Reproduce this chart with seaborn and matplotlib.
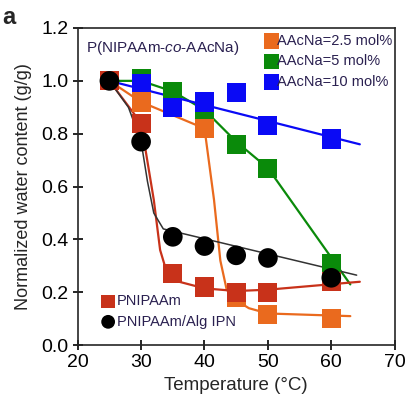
import matplotlib
matplotlib.use("Agg")
import matplotlib.pyplot as plt
import seaborn as sns

# measured points
temps = [25, 30, 35, 40, 45, 50, 60]
pnipaam = [1.0, 0.84, 0.27, 0.22, 0.20, 0.20, 0.24]
ipn = [1.0, 0.77, 0.41, 0.375, 0.34, 0.33, 0.255]
temps_25 = [25, 30, 40, 45, 50, 60]
aac_25 = [1.0, 0.92, 0.82, 0.18, 0.115, 0.10]
aac_5 = [1.0, 1.01, 0.96, 0.89, 0.76, 0.67, 0.31]
aac_10 = [1.0, 0.99, 0.90, 0.92, 0.955, 0.83, 0.78]

# guide curves (knots)
fit_red_x = [25, 30, 32, 33, 34, 36, 40, 45, 50, 64.5]
fit_red_y = [1.0, 0.84, 0.55, 0.36, 0.28, 0.24, 0.215, 0.205, 0.21, 0.24]
fit_black_x = [25, 28, 30, 31, 32, 33.5, 64]
fit_black_y = [1.0, 0.90, 0.77, 0.62, 0.50, 0.44, 0.265]
fit_orange_x = [25, 30, 40, 41.5, 42.5, 43.5, 45, 47, 50, 63]
fit_orange_y = [1.0, 0.92, 0.82, 0.55, 0.32, 0.21, 0.17, 0.14, 0.12, 0.11]
fit_green_x = [25, 30, 35, 40, 45, 50, 63]
fit_green_y = [1.0, 1.0, 0.96, 0.89, 0.77, 0.67, 0.23]
fit_blue_x = [25, 64.5]
fit_blue_y = [1.0, 0.76]

RED = "#c8321a"
ORANGE = "#ea6a1e"
GREEN = "#0a8a0a"
BLUE = "#0a0af5"
TXT = "#2a2050"

sns.set_style("ticks")
plt.rcParams["font.family"] = ["Liberation Sans", "DejaVu Sans"]
plt.rcParams["mathtext.fontset"] = "custom"
plt.rcParams["mathtext.rm"] = "Liberation Sans"
plt.rcParams["mathtext.it"] = "Liberation Sans:italic"

fig, ax = plt.subplots(figsize=(4.09, 4.0), dpi=100)
fig.subplots_adjust(left=0.19, right=0.965, top=0.93, bottom=0.137)

# fitted lines
for fx, fy, c, lw in [(fit_green_x, fit_green_y, GREEN, 1.6),
                      (fit_blue_x, fit_blue_y, BLUE, 1.6),
                      (fit_orange_x, fit_orange_y, ORANGE, 1.6),
                      (fit_red_x, fit_red_y, RED, 1.6),
                      (fit_black_x, fit_black_y, "#333333", 1.1)]:
    sns.lineplot(x=fx, y=fy, color=c, lw=lw, ax=ax, sort=False, zorder=2)

# markers
series = [
    (temps, aac_5, GREEN, "s", "AAcNa=5 mol%"),
    (temps, aac_10, BLUE, "s", "AAcNa=10 mol%"),
    (temps_25, aac_25, ORANGE, "s", "AAcNa=2.5 mol%"),
    (temps, pnipaam, RED, "s", "PNIPAAm"),
    (temps, ipn, "black", "o", "PNIPAAm/Alg IPN"),
]
handles = {}
for xs, ys, c, m, lab in series:
    sc = ax.scatter(xs, ys, color=c, marker=m, s=190 if m == "s" else 200,
                    edgecolors="none", zorder=3, label=lab)
    handles[lab] = sc

ax.set_xlim(20, 70)
ax.set_ylim(0, 1.2)
ax.set_xticks([20, 30, 40, 50, 60, 70])
ax.set_yticks([0.0, 0.2, 0.4, 0.6, 0.8, 1.0, 1.2])
ax.set_yticklabels(["0.0", "0.2", "0.4", "0.6", "0.8", "1.0", "1.2"])
ax.tick_params(direction="inout", length=7, width=1.2, labelsize=14, colors="black", pad=3)
for s in ax.spines.values():
    s.set_linewidth(1.2)
    s.set_visible(True)

ax.set_xlabel("Temperature (°C)", fontsize=13.5, labelpad=4)
ax.set_ylabel("Normalized water content (g/g)", fontsize=13, labelpad=7)

leg1 = ax.legend([handles[k] for k in ["AAcNa=2.5 mol%", "AAcNa=5 mol%", "AAcNa=10 mol%"]],
                 ["AAcNa=2.5 mol%", "AAcNa=5 mol%", "AAcNa=10 mol%"],
                 loc="upper right", frameon=False, fontsize=10.5, handlelength=0.6,
                 handletextpad=0.05, borderaxespad=0.0, labelspacing=0.45,
                 markerscale=0.8, labelcolor=TXT, bbox_to_anchor=(1.01, 1.0))
ax.add_artist(leg1)
ax.legend([handles["PNIPAAm"], handles["PNIPAAm/Alg IPN"]],
          ["PNIPAAm", "PNIPAAm/Alg IPN"],
          loc="lower left", frameon=False, fontsize=10.5, handlelength=0.6,
          handletextpad=0.3, borderaxespad=0.3, labelspacing=0.45,
          markerscale=0.7, labelcolor=TXT, bbox_to_anchor=(0.05, 0.02))

ax.text(0.025, 0.965, r"P(NIPAAm-$\mathit{co}$-AAcNa)", transform=ax.transAxes,
        fontsize=11, color=TXT, va="top", ha="left")
fig.text(0.005, 0.985, "a", fontsize=17, fontweight="bold", va="top")

fig.savefig("out.png", dpi=100)
